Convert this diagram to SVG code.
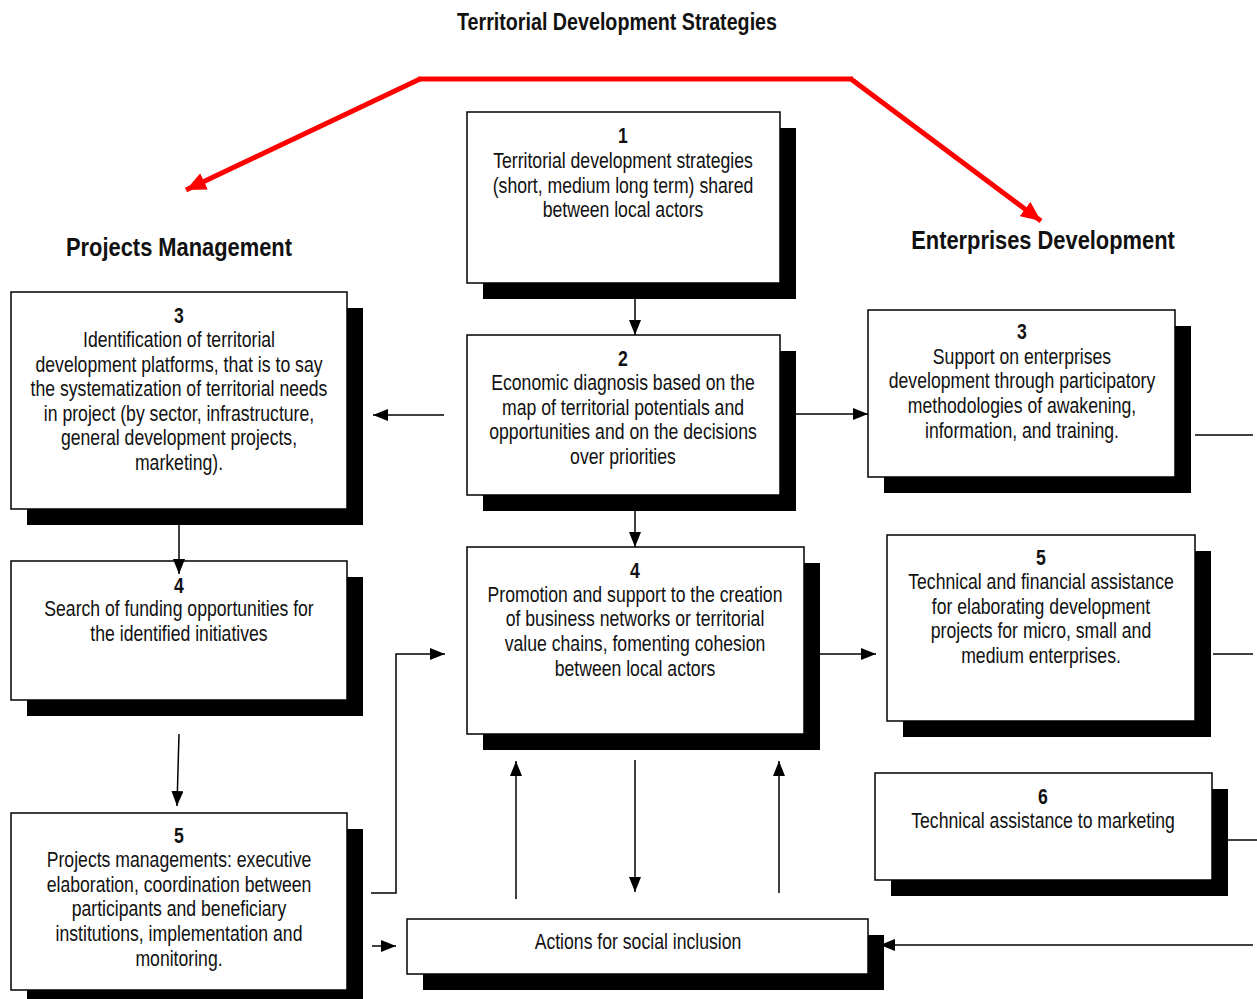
<svg xmlns="http://www.w3.org/2000/svg" width="1257" height="999" viewBox="0 0 1257 999">
<style>
  text { font-family: "Liberation Sans Narrow", "Arial Narrow", "Liberation Sans", sans-serif; fill: #111; }
  .t { font-size: 21.5px; text-anchor: middle; }
  .n { font-size: 21.5px; text-anchor: middle; font-weight: bold; }
  .h { font-size: 25px; text-anchor: middle; font-weight: bold; }
  .title { font-size: 24px; text-anchor: middle; font-weight: bold; }
  .box { fill: #fff; stroke: #000; stroke-width: 1.5; }
  .sh { fill: #000; }
  .ln { fill: none; stroke: #000; stroke-width: 1.5; }
  .red { fill: none; stroke: #ff0000; stroke-width: 5; }
</style>
<defs>
  <marker id="ah" viewBox="0 0 15 12" refX="15" refY="6" markerWidth="15" markerHeight="12" markerUnits="userSpaceOnUse" orient="auto">
    <path d="M0,0 L15,6 L0,12 Z" fill="#000"/>
  </marker>
  <marker id="rh" viewBox="0 0 20 18" refX="20" refY="9" markerWidth="20" markerHeight="18" markerUnits="userSpaceOnUse" orient="auto">
    <path d="M0,0 L20,9 L0,18 Z" fill="#ff0000"/>
  </marker>
</defs>
<rect width="1257" height="999" fill="#fff"/>

<g transform="translate(617,0) scale(0.82,1)"><text class="title" x="0" y="30">Territorial Development Strategies</text></g>
<g transform="translate(179,0) scale(0.875,1)"><text class="h" x="0" y="256">Projects Management</text></g>
<g transform="translate(1043,0) scale(0.875,1)"><text class="h" x="0" y="249">Enterprises Development</text></g>

<g id="node-1">
  <rect class="sh" x="483" y="128" width="313" height="171"/>
  <rect class="box" x="467" y="112" width="313" height="171"/>
  <g transform="translate(623,0) scale(0.82,1)">
    <text class="n" x="0" y="143">1</text>
    <text class="t" x="0" y="168">Territorial development strategies</text>
    <text class="t" x="0" y="193">(short, medium long term) shared</text>
    <text class="t" x="0" y="217">between local actors</text>
  </g>
</g>

<g id="node-2">
  <rect class="sh" x="483" y="351" width="313" height="160"/>
  <rect class="box" x="467" y="335" width="313" height="160"/>
  <g transform="translate(623,0) scale(0.82,1)">
    <text class="n" x="0" y="366">2</text>
    <text class="t" x="0" y="390">Economic diagnosis based on the</text>
    <text class="t" x="0" y="415">map of territorial potentials and</text>
    <text class="t" x="0" y="439">opportunities and on the decisions</text>
    <text class="t" x="0" y="464">over priorities</text>
  </g>
</g>

<g id="node-4c">
  <rect class="sh" x="483" y="563" width="337" height="187"/>
  <rect class="box" x="467" y="547" width="337" height="187"/>
  <g transform="translate(635,0) scale(0.82,1)">
    <text class="n" x="0" y="578">4</text>
    <text class="t" x="0" y="602">Promotion and support to the creation</text>
    <text class="t" x="0" y="626">of business networks or territorial</text>
    <text class="t" x="0" y="651">value chains, fomenting cohesion</text>
    <text class="t" x="0" y="676">between local actors</text>
  </g>
</g>

<g id="node-3l">
  <rect class="sh" x="27" y="308" width="336" height="217"/>
  <rect class="box" x="11" y="292" width="336" height="217"/>
  <g transform="translate(179,0) scale(0.82,1)">
    <text class="n" x="0" y="323">3</text>
    <text class="t" x="0" y="347">Identification of territorial</text>
    <text class="t" x="0" y="372">development platforms, that is to say</text>
    <text class="t" x="0" y="396">the systematization of territorial needs</text>
    <text class="t" x="0" y="421">in project (by sector, infrastructure,</text>
    <text class="t" x="0" y="445">general development projects,</text>
    <text class="t" x="0" y="470">marketing).</text>
  </g>
</g>

<g id="node-4l">
  <rect class="sh" x="27" y="577" width="336" height="139"/>
  <rect class="box" x="11" y="561" width="336" height="139"/>
  <g transform="translate(179,0) scale(0.82,1)">
    <text class="n" x="0" y="593">4</text>
    <text class="t" x="0" y="616">Search of funding opportunities for</text>
    <text class="t" x="0" y="641">the identified initiatives</text>
  </g>
</g>

<g id="node-5l">
  <rect class="sh" x="27" y="829" width="336" height="170"/>
  <rect class="box" x="11" y="813" width="336" height="177"/>
  <g transform="translate(179,0) scale(0.82,1)">
    <text class="n" x="0" y="843">5</text>
    <text class="t" x="0" y="867">Projects managements: executive</text>
    <text class="t" x="0" y="892">elaboration, coordination between</text>
    <text class="t" x="0" y="916">participants and beneficiary</text>
    <text class="t" x="0" y="941">institutions, implementation and</text>
    <text class="t" x="0" y="966">monitoring.</text>
  </g>
</g>

<g id="node-3r">
  <rect class="sh" x="884" y="326" width="307" height="167"/>
  <rect class="box" x="868" y="310" width="307" height="167"/>
  <g transform="translate(1022,0) scale(0.82,1)">
    <text class="n" x="0" y="339">3</text>
    <text class="t" x="0" y="364">Support on enterprises</text>
    <text class="t" x="0" y="388">development through participatory</text>
    <text class="t" x="0" y="413">methodologies of awakening,</text>
    <text class="t" x="0" y="438">information, and training.</text>
  </g>
</g>

<g id="node-5r">
  <rect class="sh" x="903" y="551" width="308" height="186"/>
  <rect class="box" x="887" y="535" width="308" height="186"/>
  <g transform="translate(1041,0) scale(0.82,1)">
    <text class="n" x="0" y="565">5</text>
    <text class="t" x="0" y="589">Technical and financial assistance</text>
    <text class="t" x="0" y="614">for elaborating development</text>
    <text class="t" x="0" y="638">projects for micro, small and</text>
    <text class="t" x="0" y="663">medium enterprises.</text>
  </g>
</g>

<g id="node-6r">
  <rect class="sh" x="891" y="789" width="337" height="107"/>
  <rect class="box" x="875" y="773" width="337" height="107"/>
  <g transform="translate(1043,0) scale(0.82,1)">
    <text class="n" x="0" y="804">6</text>
    <text class="t" x="0" y="828">Technical assistance to marketing</text>
  </g>
</g>

<g id="node-social">
  <rect class="sh" x="423" y="935" width="461" height="55"/>
  <rect class="box" x="407" y="919" width="461" height="55"/>
  <g transform="translate(638,0) scale(0.82,1)">
    <text class="t" x="0" y="949">Actions for social inclusion</text>
  </g>
</g>

<g id="connectors">
  <polyline class="red" points="420,79 186,190" marker-end="url(#rh)"/>
  <line class="red" x1="418" y1="79" x2="853" y2="79"/>
  <polyline class="red" points="851,79 1041,221" marker-end="url(#rh)"/>

  <line class="ln" x1="635" y1="299" x2="635" y2="335" marker-end="url(#ah)"/>
  <line class="ln" x1="635" y1="511" x2="635" y2="547" marker-end="url(#ah)"/>
  <line class="ln" x1="444" y1="415" x2="373" y2="415" marker-end="url(#ah)"/>
  <line class="ln" x1="796" y1="414" x2="868" y2="414" marker-end="url(#ah)"/>
  <line class="ln" x1="179" y1="525" x2="179" y2="574" marker-end="url(#ah)"/>
  <line class="ln" x1="179" y1="734" x2="177" y2="806" marker-end="url(#ah)"/>
  <polyline class="ln" points="371,893 396,893 396,654 445,654" marker-end="url(#ah)"/>
  <line class="ln" x1="820" y1="654" x2="876" y2="654" marker-end="url(#ah)"/>
  <line class="ln" x1="372" y1="946" x2="396" y2="946" marker-end="url(#ah)"/>
  <line class="ln" x1="516" y1="899" x2="516" y2="761" marker-end="url(#ah)"/>
  <line class="ln" x1="635" y1="760" x2="635" y2="892" marker-end="url(#ah)"/>
  <line class="ln" x1="779" y1="893" x2="779" y2="761" marker-end="url(#ah)"/>
  <line class="ln" x1="1195" y1="435" x2="1253" y2="435"/>
  <line class="ln" x1="1213" y1="654" x2="1253" y2="654"/>
  <line class="ln" x1="1228" y1="840" x2="1257" y2="840"/>
  <line class="ln" x1="1253" y1="945" x2="880" y2="945" marker-end="url(#ah)"/>
</g>
</svg>
